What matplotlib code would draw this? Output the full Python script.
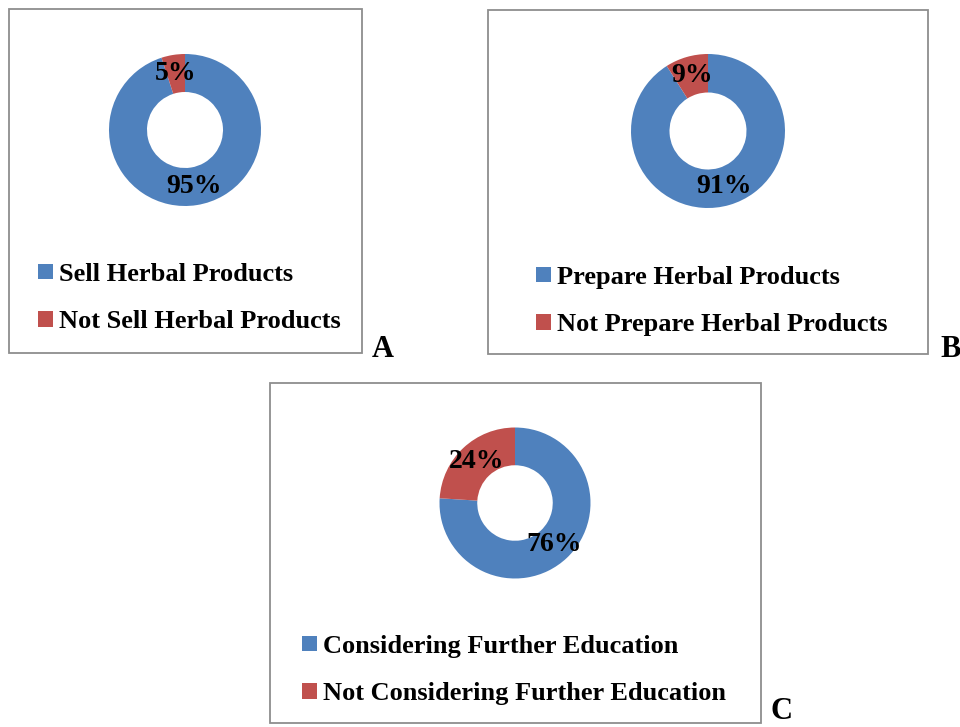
import matplotlib
matplotlib.use("Agg")
import matplotlib.pyplot as plt
from matplotlib.patches import Rectangle

# data
labels_a = ["Sell Herbal Products", "Not Sell Herbal Products"]
values_a = [95, 5]
labels_b = ["Prepare Herbal Products", "Not Prepare Herbal Products"]
values_b = [91, 9]
labels_c = ["Considering Further Education", "Not Considering Further Education"]
values_c = [76, 24]
panel_tags = ["A", "B", "C"]
colors = ["#4F81BD", "#C0504D"]

W, H = 960, 727
plt.rcParams["font.family"] = ["Liberation Serif", "DejaVu Serif"]
plt.rcParams["font.weight"] = "bold"

fig = plt.figure(figsize=(W / 100, H / 100), dpi=100)


def fx(x):
    return x / W


def fy(y):
    return 1 - y / H


def panel(box, center, radius, legend_xy, tag_xy, labels, values, tag):
    x0, y0, x1, y1 = box
    fig.patches.append(Rectangle((fx(x0), fy(y1)), fx(x1 - x0), (y1 - y0) / H,
                                 transform=fig.transFigure, fill=False,
                                 edgecolor="#8E8E8E", linewidth=1.3))
    pad = 1.4
    cx, cy = center
    size = radius * pad
    ax = fig.add_axes([fx(cx - size), fy(cy + size), 2 * size / W, 2 * size / H])
    wedges, _, autotexts = ax.pie(values, colors=colors, startangle=90, counterclock=False,
                                  autopct="%1.0f%%", pctdistance=0.75,
                                  wedgeprops=dict(width=0.5, linewidth=0),
                                  textprops=dict(fontsize=20, fontweight="bold", color="black"))
    ax.set_xlim(-pad, pad)
    ax.set_ylim(-pad, pad)
    ax.set_aspect("equal")
    lx, ly = legend_xy
    ax.legend(wedges, labels, loc="center left", bbox_to_anchor=(fx(lx), fy(ly)),
              bbox_transform=fig.transFigure, frameon=False, fontsize=19,
              handlelength=0.55, handleheight=0.55, handletextpad=0.25,
              labelspacing=0.92, borderpad=0, borderaxespad=0)
    fig.text(fx(tag_xy[0]), fy(tag_xy[1]), tag, fontsize=22, fontweight="bold",
             ha="left", va="bottom")


panel((9, 9, 362, 353), (185, 130), 76, (38, 298), (372, 364), labels_a, values_a, panel_tags[0])
panel((488, 10, 928, 354), (708, 131), 77, (536, 301), (940, 364), labels_b, values_b, panel_tags[1])
panel((270, 383, 761, 723), (515, 503), 75.5, (302, 670), (771, 726), labels_c, values_c, panel_tags[2])

fig.savefig("out.png", dpi=100)
